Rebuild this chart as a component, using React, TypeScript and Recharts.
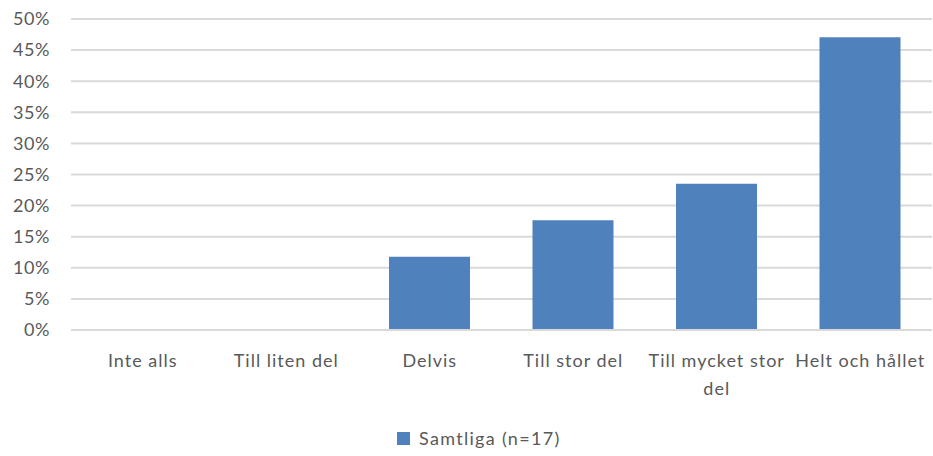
import React from 'react';
import { BarChart, Bar, XAxis, YAxis, CartesianGrid, Legend, Text } from 'recharts';

const categories = ['Inte alls', 'Till liten del', 'Delvis', 'Till stor del', 'Till mycket stor del', 'Helt och hållet'];
const samtliga = [0, 0, 0.1176, 0.1765, 0.2353, 0.4706];
const yTicks = [0, 0.05, 0.1, 0.15, 0.2, 0.25, 0.3, 0.35, 0.4, 0.45, 0.5];
const seriesName = 'Samtliga (n=17)';

const data = categories.map((name, i) => ({ name, value: samtliga[i] }));

const FONT = 'Lato, "Open Sans", sans-serif';
const TEXT = '#595959';
const BAR = '#4f81bd';

const CategoryTick = (props: any) => {
    const { x, y, payload } = props;
    return (
        <Text
            x={x}
            y={y + 16}
            width={135}
            textAnchor="middle"
            verticalAnchor="start"
            lineHeight={28}
            fill={TEXT}
            fontSize={18}
            fontFamily={FONT}
            style={{ letterSpacing: '1px' }}
        >
            {payload.value}
        </Text>
    );
};

const LegendContent = () => (
    <div style={{ display: 'flex', alignItems: 'center', fontFamily: FONT, fontSize: 18, color: TEXT, letterSpacing: '1.3px' }}>
        <span style={{ width: 13, height: 13, background: BAR, display: 'inline-block', marginRight: 9 }} />
        <span>{seriesName}</span>
    </div>
);

export default function App() {
    return (
        <div style={{ position: 'absolute', left: 0, top: 0, width: 933, height: 456, background: '#fff' }}>
            <BarChart width={933} height={456} data={data} margin={{ top: 19, right: 1, left: 0, bottom: 0 }} barSize={81}>
                <CartesianGrid vertical={false} stroke="#d9d9d9" strokeWidth={2} />
                <XAxis
                    dataKey="name"
                    height={126}
                    axisLine={{ stroke: '#d9d9d9', strokeWidth: 2 }}
                    tickLine={false}
                    interval={0}
                    tick={<CategoryTick />}
                />
                <YAxis
                    width={71}
                    domain={[0, 0.5]}
                    ticks={yTicks}
                    interval={0}
                    tickFormatter={(v: number) => `${Math.round(v * 100)}%`}
                    axisLine={false}
                    tickLine={false}
                    tickSize={0}
                    tickMargin={21}
                    tick={{ fill: TEXT, fontSize: 18, fontFamily: FONT, letterSpacing: '0.6px' }}
                />
                <Legend
                    verticalAlign="middle"
                    content={<LegendContent />}
                    wrapperStyle={{ left: 397, top: 427, width: 'auto', bottom: 'auto' }}
                />
                <Bar dataKey="value" name={seriesName} fill={BAR} isAnimationActive={false} />
            </BarChart>
        </div>
    );
}
